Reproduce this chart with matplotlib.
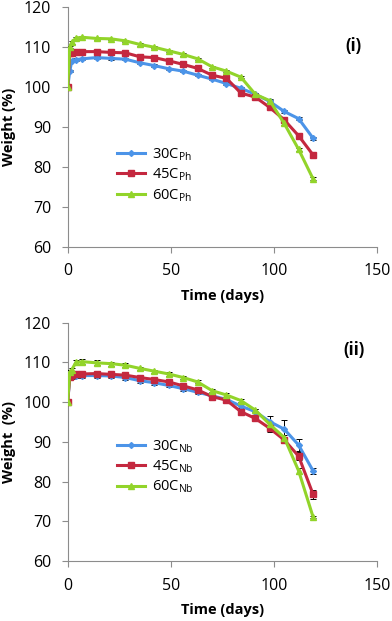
import numpy as np
import matplotlib
matplotlib.use("Agg")
import matplotlib.pyplot as plt
from matplotlib.lines import Line2D

plt.rcParams['font.family'] = ['Open Sans', 'DejaVu Sans']
plt.rcParams['mathtext.fontset'] = 'custom'
plt.rcParams['mathtext.rm'] = 'Open Sans'

days = [0, 1, 2, 4, 7, 14, 21, 28, 35, 42, 49, 56, 63, 70, 77, 84, 91, 98, 105, 112, 119]

# panel (i)
ph30 = [100, 104.0, 106.6, 106.9, 107.1, 107.4, 107.2, 107.0, 106.1, 105.4, 104.6, 104.0,
        103.0, 102.0, 100.9, 99.7, 98.2, 96.4, 93.9, 92.1, 87.2]
ph45 = [100, 108.5, 108.6, 108.7, 108.9, 108.9, 108.7, 108.6, 107.6, 107.4, 106.6, 105.7,
        104.7, 103.0, 102.2, 98.5, 97.5, 94.9, 91.8, 87.8, 83.0]
ph60 = [100, 110.0, 111.2, 112.3, 112.5, 112.2, 112.1, 111.6, 110.7, 110.0, 109.1, 108.2,
        107.1, 105.1, 104.0, 102.5, 98.2, 96.6, 90.9, 84.4, 77.0]
ph30_err = [0, 0.3, 0.3, 0.3, 0.3, 0.3, 0.3, 0.3, 0.3, 0.3, 0.3, 0.3,
            0.3, 0.3, 0.3, 0.3, 0.3, 0.3, 0.3, 0.3, 0.4]
ph45_err = [0, 0.3, 0.3, 0.3, 0.3, 0.3, 0.3, 0.3, 0.3, 0.3, 0.3, 0.3,
            0.3, 0.3, 0.3, 0.3, 0.3, 0.3, 0.3, 0.3, 0.4]
ph60_err = [0, 0.3, 0.3, 0.3, 0.3, 0.3, 0.3, 0.3, 0.3, 0.3, 0.3, 0.3,
            0.3, 0.3, 0.3, 0.3, 0.3, 0.3, 0.3, 0.3, 0.4]

# panel (ii)
nb30 = [100, 106.3, 106.4, 106.5, 106.7, 106.7, 106.6, 106.2, 105.4, 104.9, 104.2, 103.4,
        102.5, 101.6, 100.7, 99.0, 97.6, 95.1, 93.2, 89.2, 82.7]
nb45 = [100, 106.4, 106.8, 107.0, 107.1, 107.2, 107.0, 106.8, 106.2, 105.7, 105.1, 104.1,
        103.1, 101.4, 100.5, 97.6, 95.9, 93.4, 90.5, 86.4, 76.8]
nb60 = [100, 107.5, 108.2, 110.0, 110.2, 109.9, 109.7, 109.3, 108.5, 107.8, 107.1, 106.2,
        105.1, 102.9, 101.8, 100.4, 98.0, 94.4, 91.1, 82.7, 71.1]
nb30_err = [0, 0.5, 0.5, 0.5, 0.5, 0.5, 0.5, 0.5, 0.5, 0.5, 0.5, 0.5,
            0.5, 0.5, 0.5, 0.5, 0.8, 1.5, 2.3, 1.6, 0.8]
nb45_err = [0, 0.5, 0.5, 0.5, 0.5, 0.5, 0.5, 0.5, 0.5, 0.5, 0.5, 0.5,
            0.8, 0.8, 0.5, 0.5, 0.6, 0.8, 0.8, 1.0, 1.2]
nb60_err = [0, 0.5, 0.5, 0.6, 0.6, 0.6, 0.5, 0.5, 0.4, 0.4, 0.4, 0.4,
            0.4, 0.4, 0.4, 0.4, 0.4, 0.5, 0.6, 0.8, 0.3]

blue = '#4C94E8'
red = '#C4283F'
green = '#92D42A'

fig = plt.figure(figsize=(3.92, 6.21), dpi=100)
ax1 = fig.add_axes([0.1727, 0.6027, 0.789, 0.3855])
ax2 = fig.add_axes([0.1727, 0.0966, 0.789, 0.3837])


def draw(ax, series, sub, tag, ylab, leg_y):
    styles = [('30', blue, 'D', 3.0), ('45', red, 's', 5.0), ('60', green, '^', 5.0)]
    handles = []
    for (vals, err), (lbl, c, m, ms) in zip(series, styles):
        ax.errorbar(days, vals, yerr=err, color=c, marker=m, ms=ms, lw=2.2,
                    ecolor='black', elinewidth=0.7, capsize=2, capthick=0.7, zorder=3)
        handles.append(Line2D([], [], color=c, marker=m, ms=ms, lw=2.2,
                              label=lbl + 'C$_{\\mathregular{' + sub + '}}$'))
    ax.set_xlim(0, 150)
    ax.set_ylim(60, 120)
    ax.set_xticks([0, 50, 100, 150])
    ax.set_yticks([60, 70, 80, 90, 100, 110, 120])
    for s in ['top', 'right']:
        ax.spines[s].set_visible(False)
    for s in ['left', 'bottom']:
        ax.spines[s].set_color('#8c8c8c')
        ax.spines[s].set_linewidth(0.8)
    ax.tick_params(axis='both', labelsize=11.5, color='#8c8c8c', length=4, width=0.8,
                   direction='out')
    ax.tick_params(axis='y', pad=8)
    ax.tick_params(axis='x', pad=8)
    ax.set_xlabel('Time (days)', fontsize=10.5, fontweight='bold', labelpad=7)
    ax.set_ylabel(ylab, fontsize=10.5, fontweight='bold')
    ax.yaxis.set_label_coords(-0.168, 0.5)
    ax.text(0.925, tag[1], tag[0], transform=ax.transAxes, fontsize=12,
            fontweight='bold', ha='center', va='center')
    ax.legend(handles=handles, loc='upper left', bbox_to_anchor=(0.159, leg_y),
              frameon=False, fontsize=10.5, handlelength=1.9, labelspacing=0.25,
              handletextpad=0.5, borderpad=0, borderaxespad=0)


draw(ax1, [(ph30, ph30_err), (ph45, ph45_err), (ph60, ph60_err)], 'Ph', ('(i)', 0.84),
     'Weight (%)', 0.42)
draw(ax2, [(nb30, nb30_err), (nb45, nb45_err), (nb60, nb60_err)], 'Nb', ('(ii)', 0.885),
     'Weight  (%)', 0.516)

fig.savefig('out.png', dpi=100)
